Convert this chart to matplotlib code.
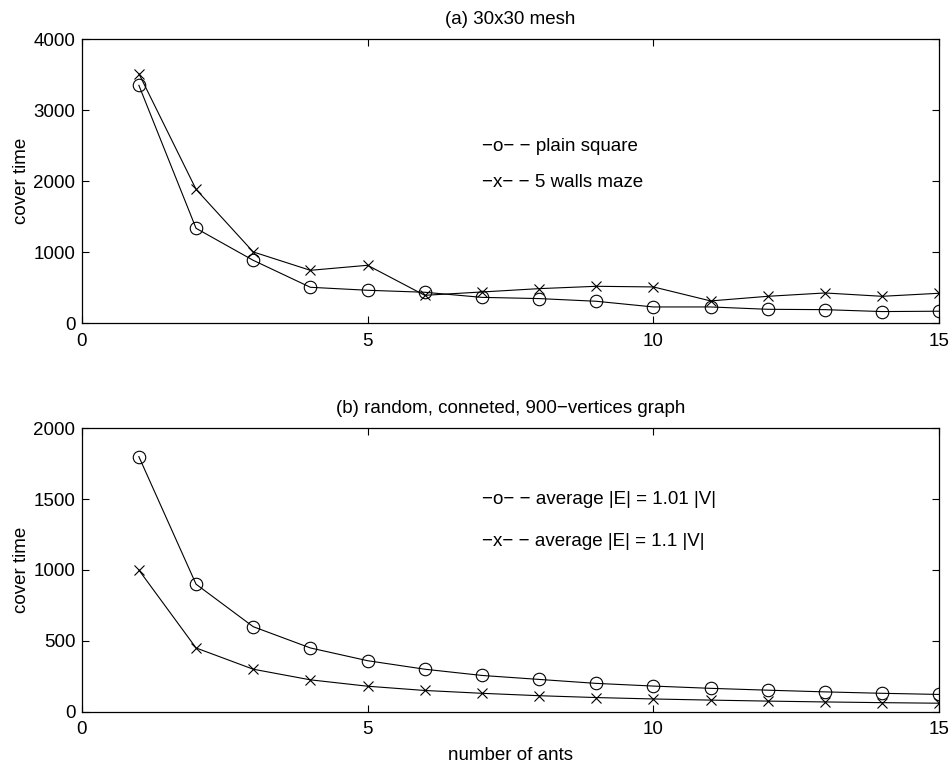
import numpy as np
import matplotlib
matplotlib.use('Agg')
import matplotlib.pyplot as plt

plt.rcParams['font.family'] = ['Liberation Sans', 'DejaVu Sans']
plt.rcParams['font.size'] = 13.5

ants = np.arange(1, 16)

# (a) 30x30 mesh
plain_square = [3352, 1338, 887, 507, 465, 437, 365, 348, 310, 230, 230, 197, 192, 165, 170]
walls_maze = [3517, 1887, 1005, 746, 817, 394, 441, 488, 521, 512, 315, 380, 427, 380, 423]

# (b) random graph
avg_101 = [1800, 900, 600, 450, 360, 300, 256, 228, 200, 181, 165, 152, 140, 130, 122]
avg_11 = [1000, 450, 300, 225, 180, 150, 130, 113, 100, 90, 82, 75, 69, 64, 60]

fs = 13.5

fig = plt.figure(figsize=(9.51, 7.63), dpi=100)
ax1 = fig.add_axes([0.0859, 0.5763, 0.9018, 0.3722])
ax2 = fig.add_axes([0.0859, 0.0672, 0.9018, 0.3715])


def style(ax, yticks):
	ax.set_xlim(0, 15)
	ax.set_xticks([0, 5, 10, 15])
	ax.set_ylim(yticks[0], yticks[-1])
	ax.set_yticks(yticks)
	ax.tick_params(direction='in', length=5, width=0.8, top=True, right=True, labelsize=fs)
	ax.tick_params(axis='x', pad=7)
	ax.tick_params(axis='y', pad=4.5)
	for s in ax.spines.values():
		s.set_linewidth(0.9)
	ax.set_ylabel('cover time', labelpad=2.5, fontsize=fs)


lw = 0.8
ax1.plot(ants, plain_square, '-o', color='k', lw=lw, ms=9, mfc='none', mew=0.8)
ax1.plot(ants, walls_maze, '-x', color='k', lw=lw, ms=7, mew=0.8)
style(ax1, [0, 1000, 2000, 3000, 4000])
ax1.set_title('(a) 30x30 mesh', fontsize=fs, pad=11)
ax1.text(0.4668, 0.621, '\u2212o\u2212 \u2212 plain square', transform=ax1.transAxes, va='center', fontsize=fs)
ax1.text(0.4668, 0.497, '\u2212x\u2212 \u2212 5 walls maze', transform=ax1.transAxes, va='center', fontsize=fs)

ax2.plot(ants, avg_101, '-o', color='k', lw=lw, ms=9, mfc='none', mew=0.8)
ax2.plot(ants, avg_11, '-x', color='k', lw=lw, ms=7, mew=0.8)
style(ax2, [0, 500, 1000, 1500, 2000])
ax2.set_title('(b) random, conneted, 900\u2212vertices graph', fontsize=fs, pad=11)
ax2.text(0.4668, 0.747, '\u2212o\u2212 \u2212 average |E| = 1.01 |V|', transform=ax2.transAxes, va='center', fontsize=fs)
ax2.text(0.4668, 0.600, '\u2212x\u2212 \u2212 average |E| = 1.1 |V|', transform=ax2.transAxes, va='center', fontsize=fs)
ax2.set_xlabel('number of ants', labelpad=6, fontsize=fs)

fig.savefig('out.png', dpi=100)
